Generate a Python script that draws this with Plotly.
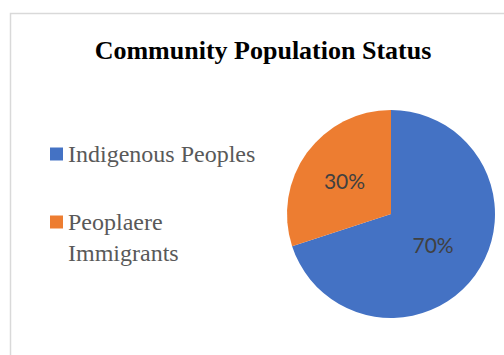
import plotly.graph_objects as go

labels = ["Indigenous Peoples", "Peoplaere<br>Immigrants"]
values = [70, 30]
colors = ["#4472C4", "#ED7D31"]
title_text = "Community Population Status"

W, H = 504, 355

fig = go.Figure()
fig.add_trace(go.Pie(
    labels=labels,
    values=values,
    sort=False,
    direction="clockwise",
    rotation=0,
    marker=dict(colors=colors, line=dict(width=0)),
    textinfo="percent",
    texttemplate="%{percent:.0%}",
    textposition="inside",
    insidetextorientation="horizontal",
    textfont=dict(family="Lato", size=21, color="#404040"),
    domain=dict(x=[287 / W, 495 / W], y=[(H - 318) / H, (H - 110) / H]),
    showlegend=False,
    hoverinfo="label+percent",
))

# chart frame
fig.add_shape(type="rect", xref="paper", yref="paper",
              x0=10.5 / W, x1=1.05, y0=-0.05, y1=1 - 13.5 / H,
              line=dict(color="#D9D9D9", width=1.5), fillcolor="rgba(0,0,0,0)", layer="below")

# manual legend
legend_y = [154, 222]
for i, (lab, col) in enumerate(zip(labels, colors)):
    yc = legend_y[i]
    fig.add_shape(type="rect", xref="paper", yref="paper",
                  x0=50 / W, x1=63 / W, y0=1 - (yc + 6.5) / H, y1=1 - (yc - 6.5) / H,
                  line=dict(width=0), fillcolor=col)
    fig.add_annotation(xref="paper", yref="paper", x=66 / W, y=1 - (yc - 15) / H,
                       xanchor="left", yanchor="top", align="left",
                       text=lab, showarrow=False,
                       font=dict(family="Liberation Serif", size=24, color="#595959"))

fig.update_layout(
    width=W, height=H,
    margin=dict(l=0, r=0, t=0, b=0),
    paper_bgcolor="white",
    plot_bgcolor="white",
    title=dict(text="<b>" + title_text + "</b>", x=263 / W, xanchor="center",
               y=1 - 50 / H, yanchor="middle", yref="container",
               font=dict(family="Liberation Serif", size=26, color="black")),
)

fig.write_html("out.html")
